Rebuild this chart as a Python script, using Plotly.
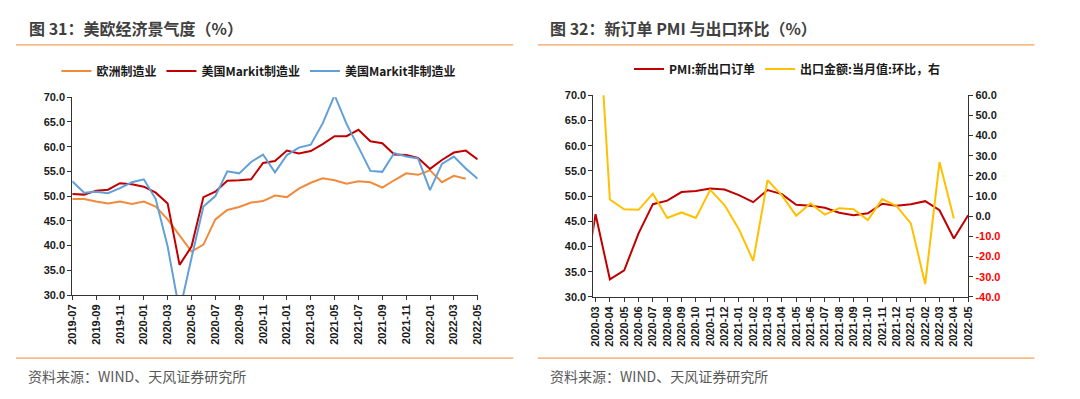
import plotly.graph_objects as go

# ---------------- data: left chart ----------------
left_months = ["2019-07", "2019-08", "2019-09", "2019-10", "2019-11", "2019-12",
               "2020-01", "2020-02", "2020-03", "2020-04", "2020-05", "2020-06",
               "2020-07", "2020-08", "2020-09", "2020-10", "2020-11", "2020-12",
               "2021-01", "2021-02", "2021-03", "2021-04", "2021-05", "2021-06",
               "2021-07", "2021-08", "2021-09", "2021-10", "2021-11", "2021-12",
               "2022-01", "2022-02", "2022-03", "2022-04", "2022-05"]
euro_mfg = [49.4, 49.4, 48.9, 48.5, 48.9, 48.4, 48.9, 47.9, 45.3, 42.0, 38.8, 40.2,
            45.3, 47.2, 47.8, 48.7, 49.0, 50.1, 49.8, 51.5, 52.7, 53.6, 53.2, 52.5,
            53.0, 52.8, 51.7, 53.2, 54.6, 54.3, 55.2, 52.8, 54.1, 53.5, None]
us_mfg = [50.4, 50.3, 51.1, 51.3, 52.6, 52.4, 51.9, 50.7, 48.5, 36.1, 39.8, 49.8,
          50.9, 53.1, 53.2, 53.4, 56.7, 57.1, 59.2, 58.6, 59.1, 60.5, 62.1, 62.1,
          63.4, 61.1, 60.7, 58.4, 58.3, 57.7, 55.5, 57.3, 58.8, 59.2, 57.4]
us_serv = [53.0, 50.7, 50.9, 50.6, 51.6, 52.8, 53.4, 49.4, 39.8, 26.7, 37.5, 47.9,
           50.0, 55.0, 54.6, 56.9, 58.4, 54.8, 58.3, 59.8, 60.4, 64.7, 70.4, 64.6,
           59.9, 55.1, 54.9, 58.7, 58.0, 57.6, 51.2, 56.5, 58.0, 55.6, 53.5]
left_yticks = [30, 35, 40, 45, 50, 55, 60, 65, 70]

# ---------------- data: right chart ----------------
right_months = ["2020-02", "2020-03", "2020-04", "2020-05", "2020-06", "2020-07",
                "2020-08", "2020-09", "2020-10", "2020-11", "2020-12", "2021-01",
                "2021-02", "2021-03", "2021-04", "2021-05", "2021-06", "2021-07",
                "2021-08", "2021-09", "2021-10", "2021-11", "2021-12", "2022-01",
                "2022-02", "2022-03", "2022-04", "2022-05"]
pmi_new_export = [28.7, 46.4, 33.5, 35.3, 42.6, 48.4, 49.1, 50.8, 51.0, 51.5, 51.3, 50.2,
                  48.8, 51.2, 50.4, 48.3, 48.1, 47.7, 46.7, 46.2, 46.6, 48.5, 48.1, 48.4,
                  49.0, 47.2, 41.6, 46.2]
export_mom = [None, 125.0, 8.3, 3.5, 3.2, 11.2, -0.8, 1.9, -0.8, 13.1, 5.6, -6.4,
              -22.1, 17.9, 10.4, 0.3, 6.4, 0.8, 4.0, 3.5, -1.9, 8.5, 5.1, -3.5,
              -33.6, 26.9, -1.1, None]
right_left_ticks = [30, 35, 40, 45, 50, 55, 60, 65, 70]
right_right_ticks = [-40, -30, -20, -10, 0, 10, 20, 30, 40, 50, 60]

W, H = 1080, 399
def px(x):
    return x / W
def py(y):
    return 1 - y / H

ORANGE = "#F08A3C"
RED = "#C00000"
BLUE = "#62A0D8"
YELLOW = "#FFC000"
TXT = "#1a1a1a"
TICKFONT = dict(family="Liberation Sans, Arial", size=11, color=TXT, weight="bold")
LEGFONT = dict(family="Noto Sans CJK SC", size=12, color=TXT, weight="bold")

fig = go.Figure()
fig.add_trace(go.Scatter(x=left_months, y=euro_mfg, name="欧洲制造业", mode="lines",
                         line=dict(color=ORANGE, width=2), xaxis="x", yaxis="y", legend="legend"))
fig.add_trace(go.Scatter(x=left_months, y=us_mfg, name="美国Markit制造业", mode="lines",
                         line=dict(color=RED, width=2), xaxis="x", yaxis="y", legend="legend"))
fig.add_trace(go.Scatter(x=left_months, y=us_serv, name="美国Markit非制造业", mode="lines",
                         line=dict(color=BLUE, width=2), xaxis="x", yaxis="y", legend="legend"))
fig.add_trace(go.Scatter(x=right_months, y=pmi_new_export, name="PMI:新出口订单", mode="lines",
                         line=dict(color=RED, width=2), xaxis="x2", yaxis="y2", legend="legend2"))
fig.add_trace(go.Scatter(x=right_months, y=export_mom, name="出口金额:当月值:环比，右", mode="lines",
                         line=dict(color=YELLOW, width=2), xaxis="x2", yaxis="y3", legend="legend2"))

axis_common = dict(showgrid=False, zeroline=False, showline=True, linecolor="#333333",
                   linewidth=1, ticks="outside", ticklen=4, tickcolor="#333333",
                   tickfont=TICKFONT)

right_ticktext = [('<span style="color:#FF0000">%.1f</span>' % v) if v < 0 else ("%.1f" % v)
                  for v in right_right_ticks]

fig.update_layout(
    width=W, height=H,
    margin=dict(l=0, r=0, t=0, b=0),
    paper_bgcolor="white", plot_bgcolor="white",
    font=dict(family="Noto Sans CJK SC", color=TXT),
    xaxis=dict(axis_common, domain=[px(67), px(477)], type="category",
               categoryorder="array", categoryarray=left_months,
               range=[0, len(left_months) - 1], tickmode="linear", tick0=0, dtick=2,
               tickangle=-90, anchor="y"),
    yaxis=dict(axis_common, domain=[py(298), py(94)], range=[30, 70],
               tickmode="array", tickvals=left_yticks,
               ticktext=["%.1f" % v for v in left_yticks], anchor="x"),
    xaxis2=dict(axis_common, domain=[px(594), px(973)], type="category",
                categoryorder="array", categoryarray=right_months,
                range=[0.85, len(right_months) - 1], tickmode="linear", tick0=1, dtick=1,
                tickangle=-90, anchor="y2"),
    yaxis2=dict(axis_common, domain=[py(300), py(92)], range=[30, 70],
                tickmode="array", tickvals=right_left_ticks,
                ticktext=["%.1f" % v for v in right_left_ticks], anchor="x2"),
    yaxis3=dict(axis_common, overlaying="y2", side="right", anchor="x2", range=[-40, 60],
                tickmode="array", tickvals=right_right_ticks, ticktext=right_ticktext),
    legend=dict(orientation="h", x=px(51), y=py(67), xanchor="left", yanchor="middle",
                font=LEGFONT, bgcolor="rgba(0,0,0,0)", itemwidth=30),
    legend2=dict(orientation="h", x=px(630), y=py(65), xanchor="left", yanchor="middle",
                 font=LEGFONT, bgcolor="rgba(0,0,0,0)", itemwidth=30),
    showlegend=True,
)

# titles, separator lines, sources
for text, x in [("图 31：美欧经济景气度（%）", 21), ("图 32：新订单 PMI 与出口环比（%）", 548)]:
    fig.add_annotation(text=text, x=px(x), y=py(23), xref="paper", yref="paper",
                       xanchor="left", yanchor="middle", showarrow=False,
                       font=dict(family="Noto Sans CJK SC", size=16, color="#404040", weight="bold"))
for x in [20, 548]:
    fig.add_annotation(text="资料来源：WIND、天风证券研究所", x=px(x), y=py(381), xref="paper", yref="paper",
                       xanchor="left", yanchor="middle", showarrow=False,
                       font=dict(family="Noto Sans CJK SC", size=14, color="#595959"))
for (x0, x1) in [(10, 513), (538, 1040)]:
    for yy in [40, 363]:
        fig.add_shape(type="line", xref="paper", yref="paper", x0=px(x0), x1=px(x1),
                      y0=py(yy), y1=py(yy), line=dict(color="#F5A05A", width=1.2))

fig.write_html("out.html", config={"displayModeBar": False},
               post_script="document.body.style.margin='0';document.body.style.overflow='hidden';")
